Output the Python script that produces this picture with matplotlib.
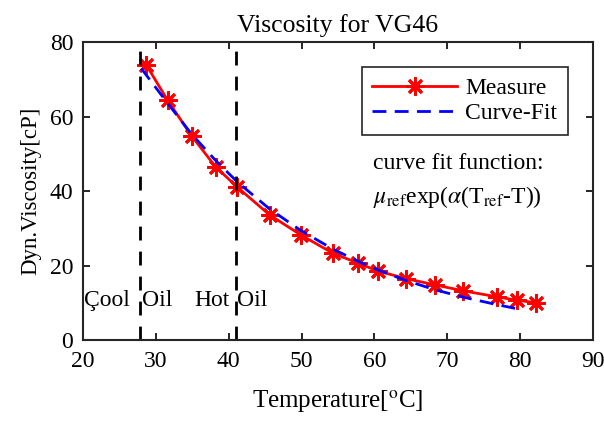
import matplotlib
matplotlib.use('Agg')
import matplotlib.pyplot as plt

# measured viscosity of VG46 oil
temp_meas = [28.7, 31.6, 34.9, 38.2, 41.2, 45.6, 49.9, 54.3, 57.8, 60.5,
             64.3, 68.3, 72.2, 76.8, 79.5, 82.2]
visc_meas = [73.8, 64.4, 54.8, 46.5, 41.0, 33.6, 28.2, 23.3, 20.6, 18.5,
             16.5, 14.8, 13.2, 11.6, 10.7, 10.0]

# curve fit
temp_fit = [28.0, 31.6, 34.9, 38.2, 41.2, 45.6, 49.9, 54.3, 57.8, 60.5,
            64.3, 68.3, 72.2, 76.8, 79.8]
visc_fit = [72.9, 63.6, 55.3, 48.2, 42.4, 35.2, 29.4, 24.4, 21.1, 18.8,
            16.0, 13.5, 11.5, 9.5, 8.3]

# cool/hot oil boundaries
t_cool = 27.8
t_hot = 41.0

plt.rcParams['font.family'] = ['Liberation Serif', 'DejaVu Serif']
plt.rcParams['mathtext.fontset'] = 'stix'
plt.rcParams['font.size'] = 17

fig = plt.figure(figsize=(6.04, 4.23), dpi=100)
ax = fig.add_axes([0.1374, 0.1962, 0.8444, 0.7045])

ax.plot(temp_meas, visc_meas, color='red', lw=2, marker=(8, 2, 0), ms=13,
        mew=2, label='Measure')
ax.plot(temp_fit, visc_fit, color='blue', lw=2, ls=(0, (5, 3)),
        label='Curve-Fit')

ax.axvline(t_cool, color='k', lw=2, ls=(0, (5, 4)))
ax.axvline(t_hot, color='k', lw=2, ls=(0, (5, 4)))

ax.text(20.2, 10.5, 'Çool', va='center', ha='left')
ax.text(28.1, 10.5, 'Oil', va='center', ha='left')
ax.text(35.3, 10.5, 'Hot', va='center', ha='left')
ax.text(41.2, 10.5, 'Oil', va='center', ha='left')

ax.text(59.8, 47.5, 'curve fit function:', va='center', ha='left')
ax.text(59.8, 38.5, r'$\mu_{\rm ref}$exp($\alpha$(T$_{\rm ref}$-T))',
        va='center', ha='left')

ax.set_xlim(20, 90)
ax.set_ylim(0, 80)
ax.set_xticks(range(20, 91, 10))
ax.set_yticks(range(0, 81, 20))
ax.tick_params(direction='in', top=True, right=True, length=5, width=1.2)
ax.tick_params(axis='x', pad=8)
ax.tick_params(axis='y', pad=7)
for s in ax.spines.values():
    s.set_linewidth(1.5)
    s.set_color('#262626')

ax.set_title('Viscosity for VG46', fontsize=18.5, pad=7)
ax.set_xlabel(r'Temperature[$^{\rm o}$C]', fontsize=18, labelpad=12)
ax.set_ylabel('Dyn.Viscosity[cP]', fontsize=16.5, labelpad=6)

leg = ax.legend(loc='upper right', bbox_to_anchor=(0.951, 0.916),
                borderaxespad=0, fancybox=False, edgecolor='#262626',
                framealpha=1, handlelength=3.6, borderpad=0.45,
                labelspacing=0.15, handletextpad=0.35)
leg.get_frame().set_linewidth(1.2)

fig.savefig('out.png', dpi=100)
